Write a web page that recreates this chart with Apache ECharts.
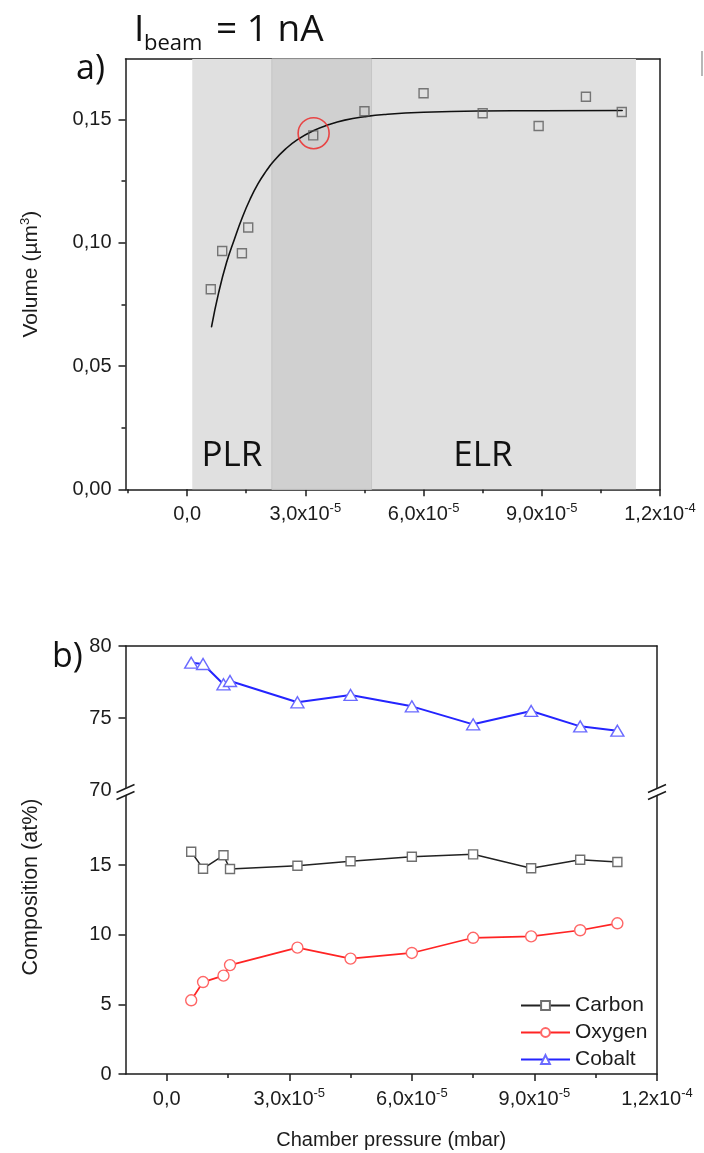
<!DOCTYPE html>
<html><head><meta charset="utf-8">
<script src="https://cdn.jsdelivr.net/npm/echarts@6/dist/echarts.min.js"></script>
<style>html,body{margin:0;padding:0;background:#fff}#c{width:704px;height:1153px}</style>
</head><body><div id="c"></div>
<script>
// ---------- data ----------
const pressure = [0.6e-5, 0.89e-5, 1.39e-5, 1.55e-5, 3.2e-5, 4.5e-5, 6.0e-5, 7.5e-5, 8.92e-5, 10.12e-5, 11.03e-5];
const volume = [0.0812, 0.0967, 0.0958, 0.1062, 0.1436, 0.1534, 0.1607, 0.1526, 0.1474, 0.1593, 0.1531];
const fitPressure = [0.62e-5, 0.8e-5, 1.0e-5, 1.2e-5, 1.4e-5, 1.6e-5, 1.8e-5, 2.0e-5, 2.2e-5, 2.5e-5, 2.8e-5, 3.2e-5, 3.6e-5, 4.0e-5, 4.5e-5, 5.0e-5, 6.0e-5, 7.5e-5, 9.0e-5, 11.04e-5];
const fitVolume = [0.066, 0.0798, 0.0920, 0.1015, 0.1103, 0.1178, 0.1240, 0.1290, 0.1332, 0.1381, 0.1419, 0.1455, 0.1480, 0.1498, 0.1512, 0.1521, 0.1530, 0.1535, 0.1536, 0.1537];
const highlightPoint = [3.21e-5, 0.1445];
const regionOuter = [0.13e-5, 11.39e-5];
const regionTransition = [2.15e-5, 4.68e-5];

const seriesNames = ['Carbon', 'Oxygen', 'Cobalt'];
const carbon = [15.96, 14.74, 15.70, 14.72, 14.95, 15.27, 15.60, 15.77, 14.77, 15.38, 15.22];
const oxygen = [5.29, 6.60, 7.06, 7.82, 9.07, 8.28, 8.69, 9.78, 9.88, 10.32, 10.82];
const cobalt = [78.84, 78.75, 77.34, 77.57, 76.09, 76.60, 75.81, 74.56, 75.49, 74.42, 74.12];

const xMajorTicks = [0, 3e-5, 6e-5, 9e-5, 1.2e-4];
const xMajorLabels = ['0,0', '3,0x10', '6,0x10', '9,0x10', '1,2x10'];
const xLabelExponents = ['', '-5', '-5', '-5', '-4'];
const xMinorTicksTop = [-1.5e-5, 1.5e-5, 4.5e-5, 7.5e-5, 10.5e-5];
const xMinorTicksBottom = [1.5e-5, 4.5e-5, 7.5e-5, 10.5e-5];
const volTicks = [0, 0.05, 0.10, 0.15];
const volLabels = ['0,00', '0,05', '0,10', '0,15'];
const volMinorTicks = [0.025, 0.075, 0.125];
const compLowTicks = [0, 5, 10, 15];
const compLowLabels = ['0', '5', '10', '15'];
const compHighTicks = [75, 80];
const compHighLabelValues = [70, 75, 80];
const compHighLabels = ['70', '75', '80'];

// ---------- layout ----------
const FONT = "'Liberation Sans', Arial, sans-serif";
const INK = '#1c1c1c';
const G0 = {left: 125.5, top: 59, width: 534.5, height: 430.3};
const G1 = {left: 125.5, top: 646, width: 531.5, height: 144};
const G2 = {left: 125.5, top: 790, width: 531.5, height: 284};
const X0 = [-1.564e-5, 1.2e-4];
const X1 = [-1.008e-5, 1.2e-4];

function nearest(arr, v) {
  let b = 0;
  for (let i = 1; i < arr.length; i++) if (Math.abs(arr[i] - v) < Math.abs(arr[b] - v)) b = i;
  return b;
}
const richX = {
  m: {fontSize: 20, fontFamily: FONT, color: INK, lineHeight: 22, verticalAlign: 'bottom'},
  e: {fontSize: 13, fontFamily: FONT, color: INK, lineHeight: 13, verticalAlign: 'top'}
};
function sciLabel(v) {
  const i = nearest(xMajorTicks, v);
  return xLabelExponents[i] ? '{m|' + xMajorLabels[i] + '}{e|' + xLabelExponents[i] + '}' : '{m|' + xMajorLabels[i] + '}';
}
const lineStyle = {color: INK, width: 1.5};

function xAxisMajor(grid, ext, extra) {
  return Object.assign({
    type: 'value', gridIndex: grid, min: ext[0], max: ext[1], position: 'bottom',
    axisLine: {show: true, onZero: false, lineStyle},
    axisTick: {show: true, inside: false, length: 7, lineStyle, customValues: xMajorTicks},
    axisLabel: {show: true, margin: 13, customValues: xMajorTicks, formatter: sciLabel, rich: richX},
    splitLine: {show: false}
  }, extra || {});
}
function xAxisMinor(grid, ext, ticks) {
  return {
    type: 'value', gridIndex: grid, min: ext[0], max: ext[1], position: 'bottom',
    axisLine: {show: false, onZero: false},
    axisTick: {show: true, inside: false, length: 4, lineStyle, customValues: ticks},
    axisLabel: {show: false}, splitLine: {show: false}
  };
}
function borderAxis(grid, ext, pos) {
  return {
    type: 'value', gridIndex: grid, min: ext[0], max: ext[1], position: pos,
    axisLine: {show: true, onZero: false, lineStyle},
    axisTick: {show: false}, axisLabel: {show: false}, splitLine: {show: false}
  };
}
function yAxisMajor(grid, ext, ticks, labelVals, labels, extra) {
  return Object.assign({
    type: 'value', gridIndex: grid, min: ext[0], max: ext[1], position: 'left',
    axisLine: {show: true, onZero: false, lineStyle},
    axisTick: {show: true, inside: false, length: 7, lineStyle, customValues: ticks},
    axisLabel: {show: true, margin: 14, customValues: labelVals, fontSize: 20, fontFamily: FONT, color: INK,
      formatter: v => labels[nearest(labelVals, v)]},
    splitLine: {show: false}
  }, extra || {});
}

const chart = echarts.init(document.getElementById('c'), null, {renderer: 'canvas'});

function breakMarks(x, y) {
  return [
    {type: 'polygon', z: 100, shape: {points: [[x - 8, y + 2], [x + 8, y - 6], [x + 8, y + 1], [x - 8, y + 9]]}, style: {fill: '#fff'}},
    {type: 'line', z: 101, shape: {x1: x - 9, y1: y + 2.5, x2: x + 9, y2: y - 5.5}, style: {stroke: INK, lineWidth: 1.5}},
    {type: 'line', z: 101, shape: {x1: x - 9, y1: y + 9.5, x2: x + 9, y2: y + 1.5}, style: {stroke: INK, lineWidth: 1.5}}
  ];
}

const option = {
  animation: false,
  backgroundColor: '#fff',
  grid: [G0, G1, G2].map(g => Object.assign({containLabel: false}, g)),
  xAxis: [
    xAxisMajor(0, X0),
    xAxisMinor(0, X0, xMinorTicksTop),
    borderAxis(0, X0, 'top'),
    borderAxis(1, X1, 'top'),
    xAxisMajor(2, X1, {name: 'Chamber pressure (mbar)', nameLocation: 'middle', nameGap: 56,
      nameTextStyle: {fontSize: 20, fontFamily: FONT, color: INK}}),
    xAxisMinor(2, X1, xMinorTicksBottom)
  ],
  yAxis: [
    yAxisMajor(0, [0, 0.1746], volTicks, volTicks, volLabels, {
      name: '{a|Volume (µm}{s|3}{a|)}', nameLocation: 'middle', nameGap: 84, nameRotate: 90,
      nameTextStyle: {rich: {a: {fontSize: 21, fontFamily: FONT, color: INK, lineHeight: 23, verticalAlign: 'bottom'},
        s: {fontSize: 13, fontFamily: FONT, color: INK, lineHeight: 13, verticalAlign: 'top'}}}
    }),
    {type: 'value', gridIndex: 0, min: 0, max: 0.1746, position: 'left',
      axisLine: {show: false, onZero: false},
      axisTick: {show: true, inside: false, length: 4, lineStyle, customValues: volMinorTicks},
      axisLabel: {show: false}, splitLine: {show: false}},
    borderAxis(0, [0, 0.1746], 'right'),
    yAxisMajor(1, [70, 80], compHighTicks, compHighLabelValues, compHighLabels),
    borderAxis(1, [70, 80], 'right'),
    yAxisMajor(2, [0, 20.39], compLowTicks, compLowTicks, compLowLabels),
    borderAxis(2, [0, 20.39], 'right')
  ],
  legend: {
    orient: 'vertical', left: 515, top: 987, itemWidth: 49, itemHeight: 11, itemGap: 0,
    data: seriesNames,
    textStyle: {fontSize: 21, fontFamily: FONT, color: INK, lineHeight: 27}
  },
  series: [
    {type: 'line', xAxisIndex: 0, yAxisIndex: 0, data: [], silent: true,
      markArea: {silent: true, z: 1, data: [
        [{xAxis: regionOuter[0], itemStyle: {color: '#e0e0e0'}}, {xAxis: regionOuter[1]}],
        [{xAxis: regionTransition[0], itemStyle: {color: '#d0d0d0', borderColor: '#c6c6c6', borderWidth: 1}}, {xAxis: regionTransition[1]}]
      ]}},
    {type: 'line', xAxisIndex: 0, yAxisIndex: 0, z: 3, smooth: 0.5, showSymbol: false, symbol: 'none',
      lineStyle: {color: '#111', width: 1.6, cap: 'round', join: 'round'},
      data: fitPressure.map((p, i) => [p, fitVolume[i]])},
    {type: 'scatter', xAxisIndex: 0, yAxisIndex: 0, z: 4, symbol: 'rect', symbolSize: 9,
      itemStyle: {color: 'rgba(0,0,0,0)', borderColor: '#5a5a5a', borderWidth: 1.4},
      data: pressure.map((p, i) => [p, volume[i]])},
    {type: 'scatter', xAxisIndex: 0, yAxisIndex: 0, z: 5, symbol: 'circle', symbolSize: 31,
      itemStyle: {color: 'rgba(0,0,0,0)', borderColor: '#ee2222', borderWidth: 1.6},
      data: [highlightPoint]},
    {name: 'Carbon', type: 'line', xAxisIndex: 4, yAxisIndex: 5, z: 3, symbol: 'rect', symbolSize: 9,
      lineStyle: {color: '#222', width: 1.5},
      itemStyle: {color: '#fff', borderColor: '#707070', borderWidth: 1.4},
      data: pressure.map((p, i) => [p, carbon[i]])},
    {name: 'Oxygen', type: 'line', xAxisIndex: 4, yAxisIndex: 5, z: 3, symbol: 'circle', symbolSize: 11,
      lineStyle: {color: '#ff2424', width: 1.7},
      itemStyle: {color: '#fff', borderColor: '#ff6666', borderWidth: 1.4},
      data: pressure.map((p, i) => [p, oxygen[i]])},
    {name: 'Cobalt', type: 'line', xAxisIndex: 3, yAxisIndex: 3, z: 3, symbol: 'triangle', symbolSize: [13, 11],
      lineStyle: {color: '#2424ff', width: 2},
      itemStyle: {color: '#fff', borderColor: '#6a6aff', borderWidth: 1.4},
      data: pressure.map((p, i) => [p, cobalt[i]])}
  ],
  graphic: [
    {type: 'text', x: 134, y: 30, z: 100, style: {text: 'I', font: "37px 'Open Sans'", fill: '#111', verticalAlign: 'middle'}},
    {type: 'text', x: 144, y: 44, z: 100, style: {text: 'beam', font: "22px 'Open Sans'", fill: '#111', verticalAlign: 'middle'}},
    {type: 'text', x: 216, y: 30, z: 100, style: {text: '= 1 nA', font: "37px 'Open Sans'", fill: '#111', verticalAlign: 'middle'}},
    {type: 'text', x: 76, y: 69, z: 100, style: {text: 'a)', font: "34px 'Open Sans'", fill: '#111', verticalAlign: 'middle'}},
    {type: 'text', x: 52, y: 657, z: 100, style: {text: 'b)', font: "34px 'Open Sans'", fill: '#111', verticalAlign: 'middle'}},
    {type: 'text', x: 232, y: 456, z: 100, style: {text: 'PLR', font: "35px 'Open Sans'", fill: '#111', align: 'center', verticalAlign: 'middle'}},
    {type: 'text', x: 483, y: 456, z: 100, style: {text: 'ELR', font: "35px 'Open Sans'", fill: '#111', align: 'center', verticalAlign: 'middle'}},
    {type: 'text', x: 31, y: 887, rotation: Math.PI / 2, z: 100, style: {text: 'Composition (at%)', font: "21.5px 'Liberation Sans'", fill: INK, align: 'center', verticalAlign: 'middle'}},
    {type: 'line', z: 100, shape: {x1: 702, y1: 51, x2: 702, y2: 76}, style: {stroke: '#888', lineWidth: 1.2}}
  ].concat(breakMarks(125.5, 790), breakMarks(657, 790))
};
chart.setOption(option);
</script>
</body></html>
